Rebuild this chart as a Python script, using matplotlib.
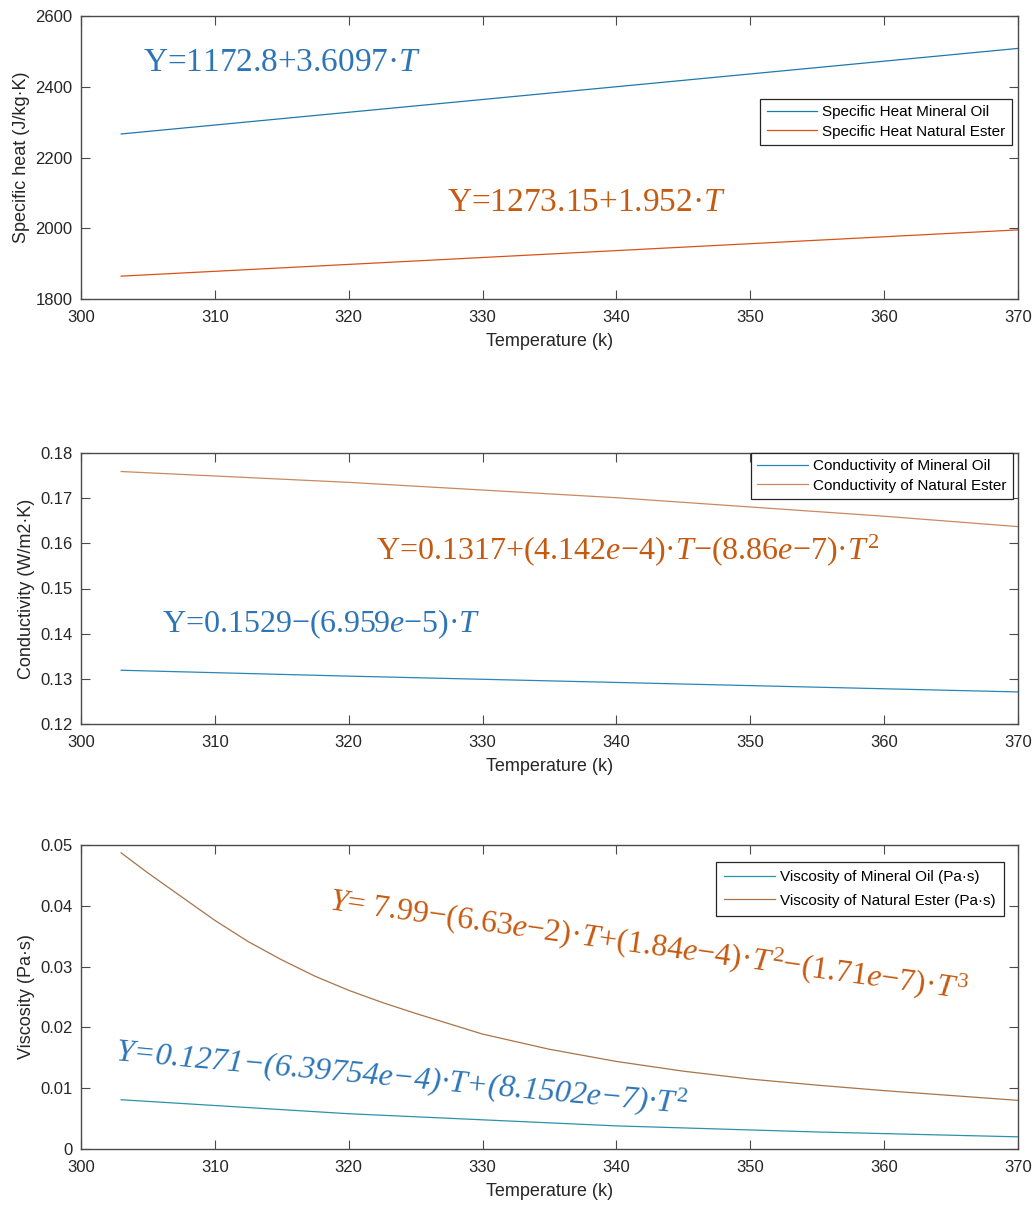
import numpy as np
import matplotlib
matplotlib.use("Agg")
import matplotlib.pyplot as plt

# Values
temp_cp = [303, 370]
cp_mineral = [2266.5, 2508.4]
cp_ester = [1864.6, 1995.4]

temp_k = [303, 320, 340, 360, 370]
k_mineral = [0.1319, 0.1306, 0.1292, 0.1278, 0.1271]
k_ester = [0.1759, 0.1735, 0.1701, 0.1660, 0.1637]

temp_mu_oil = [303, 320, 340, 355, 370]
mu_mineral = [0.0081, 0.0058, 0.0038, 0.0028, 0.0020]
temp_mu_ester = [303, 305, 307.5, 310, 312.5, 315, 317.5, 320, 322.5, 325,
                 327.5, 330, 335, 340, 345, 350, 355, 360, 365, 370]
mu_ester = [0.0487, 0.0454, 0.0415, 0.0376, 0.0341, 0.0311, 0.0284, 0.0261, 0.0241, 0.0223,
            0.0206, 0.0189, 0.0164, 0.0144, 0.0128, 0.0115, 0.0105, 0.0096, 0.0088, 0.0080]

x_ticks = [300, 310, 320, 330, 340, 350, 360, 370]
cp_ticks = [1800, 2000, 2200, 2400, 2600]
k_ticks = [0.12, 0.13, 0.14, 0.15, 0.16, 0.17, 0.18]
k_tick_labels = ["0.12", "0.13", "0.14", "0.15", "0.16", "0.17", "0.18"]
mu_ticks = [0, 0.01, 0.02, 0.03, 0.04, 0.05]
mu_tick_labels = ["0", "0.01", "0.02", "0.03", "0.04", "0.05"]

plt.rcParams["font.family"] = ["Liberation Sans", "DejaVu Sans"]
plt.rcParams["mathtext.fontset"] = "custom"
plt.rcParams["mathtext.rm"] = "Liberation Serif"
plt.rcParams["mathtext.it"] = "Liberation Serif:italic"

W, H = 1036, 1211
fig = plt.figure(figsize=(W / 100, H / 100), dpi=100)

def make_axes(top, bottom, left=81, right=1018):
    return fig.add_axes([left / W, 1 - bottom / H, (right - left) / W, (bottom - top) / H])

ax1 = make_axes(16, 299)
ax2 = make_axes(453, 724)
ax3 = make_axes(845, 1149)

axis_col = "#4a4a4a"
text_col = "#262626"
eq_blue = "#2E75B6"
eq_orange = "#C55A11"

def style(ax, yticks, ylabels, ylabel, ylim):
    ax.set_xlim(300, 370)
    ax.set_ylim(*ylim)
    ax.set_xticks(x_ticks)
    ax.set_yticks(yticks)
    if ylabels is not None:
        ax.set_yticklabels(ylabels)
    ax.tick_params(direction="in", length=6.5, width=0.8, color=axis_col,
                   labelcolor=text_col, labelsize=12, top=True, right=True)
    ax.tick_params(axis="x", pad=8)
    ax.tick_params(axis="y", pad=6)
    for s in ax.spines.values():
        s.set_color(axis_col)
        s.set_linewidth(1.0)
    ax.set_xlabel("Temperature (k)", fontsize=13, color=text_col, labelpad=6)
    ax.set_ylabel(ylabel, fontsize=13, color=text_col, labelpad=4)

def legend(ax, right_px, top_px, spacing=0.35, pad=0.42):
    leg = ax.legend(loc="upper right", bbox_to_anchor=(right_px / W, 1 - top_px / H),
                    bbox_transform=fig.transFigure, borderaxespad=0, fontsize=11,
                    fancybox=False, framealpha=1, edgecolor="#262626",
                    handlelength=3.3, handletextpad=0.35, labelspacing=spacing,
                    borderpad=pad)
    leg.get_frame().set_linewidth(0.9)

# Specific heat
ax1.plot(temp_cp, cp_mineral, color="#1f78b0", lw=0.9, label="Specific Heat Mineral Oil")
ax1.plot(temp_cp, cp_ester, color="#d95319", lw=0.9, label="Specific Heat Natural Ester")
style(ax1, cp_ticks, None, "Specific heat (J/kg·K)", (1800, 2600))
legend(ax1, 1012, 99)
fig.text(143 / W, 1 - 71 / H, "Y=1172.8+3.6097·$T$", color=eq_blue, fontsize=24,
         family="Liberation Serif", ha="left", va="baseline")
fig.text(447 / W, 1 - 211 / H, "Y=1273.15+1.952·$T$", color=eq_orange, fontsize=24,
         family="Liberation Serif", ha="left", va="baseline")

# Conductivity
ax2.plot(temp_k, k_mineral, color="#2a86b8", lw=0.9, label="Conductivity of Mineral Oil")
ax2.plot(temp_k, k_ester, color="#c98a60", lw=0.9, label="Conductivity of Natural Ester")
style(ax2, k_ticks, k_tick_labels, "Conductivity (W/m2·K)", (0.12, 0.18))
legend(ax2, 1013, 453)
fig.text(376 / W, 1 - 559 / H, "Y=0.1317+(4.142$e$−4)·$T$−(8.86$e$−7)·$T^2$",
         color=eq_orange, fontsize=23, family="Liberation Serif", ha="left", va="baseline")
fig.text(162 / W, 1 - 632 / H, "Y=0.1529−(6.959$e$−5)·$T$", color=eq_blue, fontsize=23,
         family="Liberation Serif", ha="left", va="baseline")

# Viscosity
ax3.plot(temp_mu_oil, mu_mineral, color="#2a93a8", lw=0.9, label="Viscosity of Mineral Oil (Pa·s)")
ax3.plot(temp_mu_ester, mu_ester, color="#a8744a", lw=0.9, label="Viscosity of Natural Ester (Pa·s)")
style(ax3, mu_ticks, mu_tick_labels, "Viscosity (Pa·s)", (0, 0.05))
legend(ax3, 1004, 862, spacing=0.6, pad=0.55)
fig.text(328 / W, 1 - 909 / H, "$Y$= 7.99−(6.63$e$−2)·$T$+(1.84$e$−4)·$T^2$−(1.71$e$−7)·$T^3$",
         color=eq_orange, fontsize=23, family="Liberation Serif", ha="left", va="baseline",
         rotation=-8, rotation_mode="anchor")
fig.text(115 / W, 1 - 1060 / H, "Y=0.1271−(6.39754e−4)·$T$+(8.1502e−7)·$T^2$",
         color=eq_blue, fontsize=23, family="Liberation Serif", style="italic",
         ha="left", va="baseline", rotation=-5.3, rotation_mode="anchor")

fig.savefig("out.png", dpi=100)
